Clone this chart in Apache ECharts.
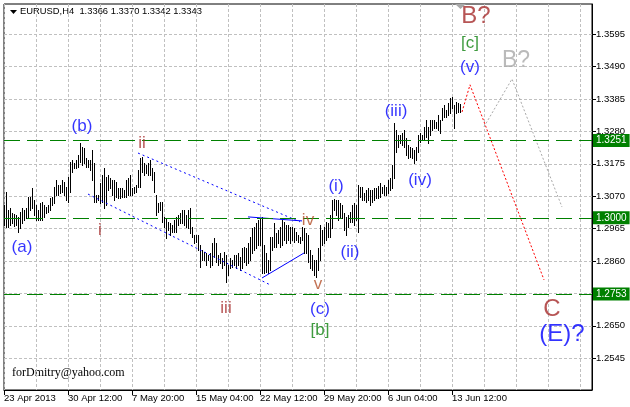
<!DOCTYPE html>
<html><head><meta charset="utf-8">
<script src="https://cdn.jsdelivr.net/npm/echarts@6/dist/echarts.min.js"></script>
<style>html,body{margin:0;padding:0;background:#fff}#c{width:630px;height:407px}</style>
</head><body><div id="c"></div>
<script>
// ---- data ----
const tickLabels = ['23 Apr 2013','30 Apr 12:00','7 May 20:00','15 May 04:00','22 May 12:00','29 May 20:00','6 Jun 04:00','13 Jun 12:00'];
const barsPerLabel = 32;
const slotCount = 295;
const priceTicks = [1.2545,1.2650,1.2755,1.2860,1.2965,1.3070,1.3175,1.3280,1.3385,1.3490,1.3595];
const levels = [1.3251, 1.3000, 1.2753];
const barHigh = [
 1.3042,1.3084,1.3026,1.3032,1.3016,1.3013,1.3009,1.3003,1.3019,1.3032,
 1.3026,1.3032,1.3068,1.3068,1.3097,1.3058,1.3042,1.3026,1.3048,1.3052,
 1.3042,1.3035,1.3042,1.3064,1.3068,1.3100,1.3123,1.3107,1.3107,1.3123,
 1.3116,1.3100,1.3133,1.3181,1.3188,1.3178,1.3188,1.3204,1.3243,1.3230,
 1.3226,1.3194,1.3188,1.3188,1.3220,1.3178,1.3074,1.3074,1.3113,1.3139,
 1.3162,1.3133,1.3139,1.3129,1.3123,1.3123,1.3116,1.3097,1.3097,1.3097,
 1.3090,1.3123,1.3129,1.3139,1.3097,1.3100,1.3107,1.3155,1.3194,1.3197,
 1.3178,1.3171,1.3178,1.3188,1.3162,1.3149,1.3074,1.3048,1.3052,1.3052,
 1.3003,1.3000,1.2987,1.2983,1.2977,1.2993,1.3003,1.3009,1.3016,1.3026,
 1.3026,1.3009,1.3026,1.3032,1.2971,1.2945,1.2945,1.2945,1.2912,1.2896,
 1.2890,1.2886,1.2880,1.2886,1.2919,1.2935,1.2919,1.2880,1.2886,1.2870,
 1.2890,1.2880,1.2847,1.2870,1.2864,1.2880,1.2880,1.2886,1.2873,1.2902,
 1.2906,1.2902,1.2919,1.2938,1.2967,1.2971,1.2983,1.2993,1.3000,1.3003,
 1.2912,1.2886,1.2864,1.2938,1.2938,1.2983,1.2951,1.2961,1.2971,1.2993,
 1.2987,1.2977,1.2977,1.2971,1.2971,1.2967,1.2954,1.2945,1.2938,1.2971,
 1.2967,1.2951,1.2945,1.2896,1.2880,1.2864,1.2864,1.2902,1.2977,1.2961,
 1.2971,1.2987,1.2983,1.3009,1.3058,1.3061,1.3058,1.3058,1.3048,1.3042,
 1.3016,1.3003,1.3009,1.3019,1.3042,1.3048,1.3042,1.3107,1.3100,1.3100,
 1.3081,1.3090,1.3097,1.3090,1.3090,1.3097,1.3097,1.3103,1.3113,1.3100,
 1.3107,1.3100,1.3123,1.3129,1.3171,1.3307,1.3285,1.3269,1.3269,1.3275,
 1.3285,1.3259,1.3236,1.3230,1.3226,1.3220,1.3230,1.3269,1.3275,1.3269,
 1.3295,1.3317,1.3295,1.3317,1.3317,1.3317,1.3311,1.3333,1.3317,1.3356,
 1.3366,1.3350,1.3372,1.3388,1.3392,1.3366,1.3376,1.3372,1.3370];
const barLow = [
 1.2977,1.2971,1.2971,1.2977,1.2983,1.2974,1.2977,1.2954,1.2967,1.2983,
 1.2993,1.3000,1.3003,1.3026,1.3032,1.3009,1.2993,1.2993,1.2993,1.2993,
 1.3003,1.3016,1.3019,1.3026,1.3042,1.3048,1.3074,1.3074,1.3081,1.3084,
 1.3074,1.3058,1.3052,1.3084,1.3149,1.3162,1.3162,1.3165,1.3181,1.3171,
 1.3178,1.3165,1.3165,1.3155,1.3123,1.3052,1.3052,1.3058,1.3048,1.3052,
 1.3032,1.3042,1.3090,1.3097,1.3074,1.3058,1.3068,1.3064,1.3064,1.3068,
 1.3068,1.3068,1.3074,1.3074,1.3074,1.3081,1.3084,1.3100,1.3100,1.3149,
 1.3139,1.3145,1.3139,1.3139,1.3123,1.3084,1.3009,1.3019,1.3026,1.2987,
 1.2971,1.2935,1.2961,1.2945,1.2954,1.2954,1.2954,1.2977,1.2983,1.2983,
 1.2977,1.2971,1.2967,1.2951,1.2938,1.2919,1.2922,1.2896,1.2841,1.2864,
 1.2864,1.2847,1.2864,1.2841,1.2847,1.2873,1.2857,1.2847,1.2854,1.2837,
 1.2847,1.2792,1.2815,1.2837,1.2841,1.2847,1.2837,1.2847,1.2831,1.2837,
 1.2857,1.2847,1.2854,1.2864,1.2886,1.2896,1.2902,1.2912,1.2912,1.2821,
 1.2821,1.2825,1.2821,1.2831,1.2896,1.2906,1.2906,1.2919,1.2906,1.2912,
 1.2928,1.2919,1.2928,1.2919,1.2928,1.2922,1.2928,1.2922,1.2919,1.2928,
 1.2886,1.2886,1.2857,1.2837,1.2831,1.2815,1.2809,1.2831,1.2864,1.2912,
 1.2919,1.2928,1.2938,1.2938,1.2967,1.3026,1.3009,1.2993,1.3000,1.3000,
 1.2961,1.2945,1.2971,1.2987,1.2987,1.2977,1.2993,1.2954,1.3068,1.3058,
 1.3058,1.3052,1.3058,1.3042,1.3052,1.3058,1.3064,1.3064,1.3068,1.3081,
 1.3074,1.3074,1.3081,1.3090,1.3097,1.3129,1.3214,1.3230,1.3243,1.3236,
 1.3230,1.3204,1.3194,1.3197,1.3194,1.3178,1.3188,1.3214,1.3246,1.3252,
 1.3252,1.3262,1.3243,1.3269,1.3285,1.3291,1.3291,1.3285,1.3275,1.3317,
 1.3327,1.3327,1.3333,1.3340,1.3356,1.3291,1.3340,1.3343,1.3342];
// trend lines: [bar index, price]
const upperDotted = [[67,1.3210],[148,1.2987]];
const lowerDotted = [[42,1.3077],[133,1.2783]];
const triUpper = [[122,1.3003],[149,1.2990]];
const triLower = [[129,1.2805],[150,1.2886]];
const redPath = [[229,1.3343],[233,1.3431],[270,1.2799]];
const grayPath = [[240,1.3295],[254,1.3450],[279,1.3035]];
// wave labels: [bar index, price, text, kind]
const waveLabels = [
 [9,1.2905,'(a)','blue'], [39,1.3295,'(b)','blue'], [158,1.2702,'(c)','blue'],
 [48,1.2958,'i','brown'], [69,1.3243,'ii','brown'], [111,1.2706,'iii','brown'],
 [152,1.2993,'iv','sienna'], [157,1.2783,'v','sienna'], [158,1.2634,'[b]','green'],
 [166,1.3103,'(i)','blue'], [173,1.2887,'(ii)','blue'], [196,1.3346,'(iii)','blue'],
 [208,1.3123,'(iv)','blue'], [233,1.3488,'(v)','blue'], [233,1.3564,'[c]','green'],
 [236,1.3654,'B?','bigbrown'], [256,1.3508,'B?','biggray'], [274,1.2702,'C','bigbrown'],
 [279,1.2621,'(E)?','bigblue']
];

// ---- styles ----
const FONT = 'Liberation Sans, Arial, sans-serif';
const labelStyles = {
  blue:{color:'#0000ff', fontSize:17}, brown:{color:'#a52a2a', fontSize:17},
  sienna:{color:'#b4502a', fontSize:17}, green:{color:'#0f820f', fontSize:17},
  bigbrown:{color:'#a52a2a', fontSize:24}, biggray:{color:'#a9a9a9', fontSize:23},
  bigblue:{color:'#0000ff', fontSize:24}
};
const categories = Array.from({length: slotCount}, (_, i) => 'bar' + i);
const isLabelSlot = i => i % barsPerLabel === 0 && i / barsPerLabel < tickLabels.length;

function lineSeries(data, color, type){
  return {type:'line', data, symbol:'none', silent:true, z:4, animation:false,
    lineStyle:{color, width:1, type}};
}

const chart = echarts.init(document.getElementById('c'));
chart.setOption({
  animation:false,
  grid:{left:4, right:38, top:4, bottom:17, show:true, borderColor:'#000', borderWidth:1, backgroundColor:'#fff', containLabel:false, outerBoundsMode:'none'},
  xAxis:{
    type:'category', data:categories, boundaryGap:false,
    axisLine:{show:true, lineStyle:{color:'#000', width:1}},
    axisTick:{show:true, length:5, interval:(i)=>isLabelSlot(i), lineStyle:{color:'#000'}},
    axisLabel:{interval:(i)=>isLabelSlot(i), formatter:(v,i)=>tickLabels[i/barsPerLabel]||'',
      align:'left', margin:3, fontSize:9.5, color:'#000', fontFamily:FONT},
    splitLine:{show:true, interval:15, lineStyle:{color:'#c0c0c0', type:[3,2], width:1}}
  },
  yAxis:{
    type:'value', position:'right', min:1.2442, max:1.3693, scale:true,
    axisLine:{show:true, lineStyle:{color:'#000'}},
    axisTick:{show:true, length:4, customValues:priceTicks, lineStyle:{color:'#000'}},
    axisLabel:{customValues:priceTicks, formatter:v=>v.toFixed(4), color:'#000', fontSize:9.5, margin:4, fontFamily:FONT},
    splitLine:{show:true, lineStyle:{color:'#c0c0c0', type:[3,2], width:1}}
  },
  graphic:[
    {type:'polygon', shape:{points:[[10,10],[17,10],[13.5,14]]}, style:{fill:'#000'}},
    {type:'text', left:20, top:7, style:{text:'EURUSD,H4  1.3366 1.3370 1.3342 1.3343', fill:'#000', fontSize:9.4, fontFamily:FONT}},
    {type:'polygon', shape:{points:[[455,4],[466,4],[460.5,9]]}, style:{fill:'#a8a8a8'}},
    {type:'text', left:12, top:367, style:{text:'forDmitry@yahoo.com', fill:'#000', fontSize:12, fontFamily:'Liberation Serif, Times New Roman, serif'}}
  ],
  series:[
    {
      type:'custom', z:3, animation:false, silent:true,
      encode:{x:0, y:[1,2]},
      data: barHigh.map((h,i)=>[i, barLow[i], h]),
      renderItem(params, api){
        const hi = api.coord([api.value(0), api.value(2)]);
        const lo = api.coord([api.value(0), api.value(1)]);
        const x = Math.round(hi[0]) + 0.5;
        return {type:'line', shape:{x1:x, y1:Math.round(hi[1]), x2:x, y2:Math.round(lo[1])+1},
          style:{stroke:'#000', lineWidth:1}};
      }
    },
    {
      type:'line', data:[], silent:true, animation:false, z:2,
      markLine:{
        silent:true, symbol:['none','none'], animation:false, precision:4,
        lineStyle:{color:'#008000', type:[16,7], width:1},
        label:{position:'end', distance:1, formatter:p=>Number(p.value).toFixed(4),
          backgroundColor:'#008000', color:'#fff', padding:[2,3,1,3], fontSize:10, fontFamily:FONT},
        data: levels.map(v=>({yAxis:v, lineStyle:{color:'#008000'}}))
      }
    },
    lineSeries(upperDotted, '#0000ff', [2,3]),
    lineSeries(lowerDotted, '#0000ff', [2,3]),
    lineSeries(triUpper, '#0000ff', 'solid'),
    lineSeries(triLower, '#0000ff', 'solid'),
    lineSeries(redPath, '#ff0000', [2,2]),
    lineSeries(grayPath, '#a9a9a9', [2,2]),
    {
      type:'scatter', z:6, silent:true, animation:false, symbolSize:1,
      itemStyle:{color:'rgba(0,0,0,0)'},
      data: waveLabels.map(w=>({value:[w[0], w[1]],
        label:{show:true, position:'inside', formatter:w[2], fontFamily:FONT,
          color:labelStyles[w[3]].color, fontSize:labelStyles[w[3]].fontSize}}))
    }
  ]
});
</script></body></html>
